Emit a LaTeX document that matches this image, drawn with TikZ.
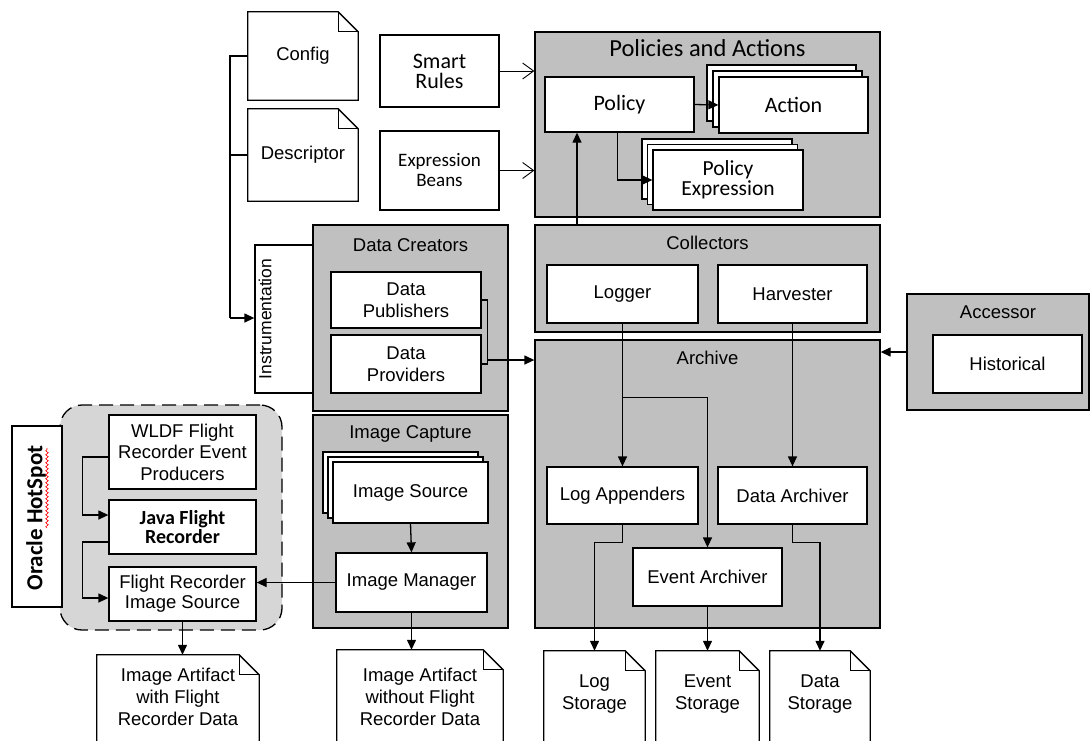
\documentclass[tikz,border=0pt]{standalone}
\usepackage{fontspec}
\setmainfont{Liberation Sans}
\newfontfamily\calib{Carlito}
\usetikzlibrary{arrows.meta,calc,backgrounds,decorations.pathmorphing}
\definecolor{grp}{RGB}{192,192,192}
\definecolor{hot}{RGB}{214,214,214}
\tikzset{
  every node/.style={font=\fontsize{18.5}{22}\selectfont},
  box/.style={draw, line width=1.3pt, fill=white, inner sep=0pt, align=center},
  grpbox/.style={draw, line width=1.3pt, fill=grp, inner sep=0pt},
  hotbox/.style={draw, line width=1.3pt, fill=hot, inner sep=0pt, dash pattern=on 14pt off 7pt, rounded corners=22pt},
  ttl/.style={inner sep=0pt},
  doc/.style={inner sep=0pt, align=center},
  ln/.style={line width=1.3pt},
  arr/.style={line width=1.3pt, -{Triangle[length=10pt,width=9pt]}},
  oarr/.style={line width=0.9pt, -{Straight Barb[length=11pt,width=16pt]}},
}
\newcommand\rn[6][]{\node[#1, minimum width={(#4)-(#2)}, minimum height={(#5)-(#3)}] (#6) at ({((#2)+(#4))/2},{((#3)+(#5))/2})}
\newcommand\stackback[5]{\foreach \k in {2,1}{\draw[ln, fill=white] ({#1-\k*#5},{#2-\k*#5}) rectangle ({#3-\k*#5},{#4-\k*#5});}}
\newcommand\docshape[2]{%
  \begin{pgfonlayer}{background}
  \draw[ln, fill=white] ([yshift=-#2pt]#1.south west) -- (#1.north west) -- ([xshift=-20pt]#1.north east) -- ([yshift=-20pt]#1.north east) -- ([yshift=-#2pt]#1.south east) -- cycle;
  \draw[ln] ([xshift=-20pt]#1.north east) |- ([yshift=-20pt]#1.north east);
  \end{pgfonlayer}}
\begin{document}
\begin{tikzpicture}[x=1pt,y=-1pt]
\useasboundingbox (0,0) rectangle (1092,740);
\clip (0,0) rectangle (1092,740);

% group containers
\rn[grpbox]{535}{32}{880}{217}{pa} {};
\path (pa.north) ++(0,17) node[ttl, font=\calib\fontsize{24.5}{24}\selectfont] (pat) {Policies and Actions};
\rn[grpbox]{535}{225}{880}{332}{coll} {};
\path (coll.north) ++(0,19) node[ttl] (collt) {Collectors};
\rn[grpbox]{535}{340}{880}{628}{arch} {};
\path (arch.north) ++(0,19) node[ttl] (archt) {Archive};
\rn[grpbox]{907}{294}{1089}{410}{acc} {};
\path (acc.north) ++(0,19) node[ttl] (acct) {Accessor};
\rn[box]{255}{245}{314}{393}{instr} {};
\node[rotate=90, inner sep=0pt, font=\fontsize{17.5}{20}\selectfont] (instrt) at (265,319) {Instrumentation};
\rn[grpbox]{313}{225}{508}{411}{dc} {};
\path (dc.north) ++(0,21) node[ttl] (dct) {Data Creators};
\rn[grpbox]{313}{415}{508}{628}{ic} {};
\path (ic.north) ++(0,20) node[ttl] (ict) {Image Capture};
\rn[hotbox]{60}{405}{282}{630}{hs} {};

% documents
\rn[doc]{248}{12}{358}{100}{cfg} {Config};
\docshape{cfg}{0}
\rn[doc]{248}{109}{358}{201}{desc} {Descriptor};
\docshape{desc}{0}
\rn[doc]{97}{655}{259}{739}{iaw} {Image Artifact\\with Flight\\Recorder Data};
\docshape{iaw}{12}
\rn[doc]{337}{650}{503}{744}{iwo} {Image Artifact\\without Flight\\Recorder Data};
\docshape{iwo}{12}
\rn[doc]{544}{651}{645}{737}{logs} {Log\\Storage};
\docshape{logs}{12}
\rn[doc]{656}{651}{759}{737}{evs} {Event\\Storage};
\docshape{evs}{12}
\rn[doc]{770}{651}{870}{737}{dats} {Data\\Storage};
\docshape{dats}{12}

% boxes
\rn[box, font=\calib\fontsize{22}{20}\selectfont]{380}{35}{499}{107}{sr} {Smart\\Rules};
\rn[box, font=\calib\fontsize{19}{20}\selectfont]{380}{131}{499}{210}{eb} {Expression\\Beans};
\rn[box, font=\calib\fontsize{22}{22}\selectfont]{545}{77}{694}{132}{pol} {Policy};
\stackback{719}{77}{868}{133}{6}
\rn[box, font=\calib\fontsize{22}{22}\selectfont]{719}{77}{868}{133}{act} {Action};
\stackback{653}{150}{803}{210}{5.5}
\rn[box, font=\calib\fontsize{21.5}{20}\selectfont]{653}{150}{803}{210}{pe} {Policy\\Expression};
\rn[box]{547}{265}{698}{323}{logger} {Logger};
\rn[box]{718}{265}{867}{323}{harv} {Harvester};
\rn[box]{547}{467}{698}{524}{la} {Log Appenders};
\rn[box]{718}{467}{867}{524}{da} {Data Archiver};
\rn[box]{633}{548}{782}{606}{ea} {Event Archiver};
\rn[box]{933}{335}{1082}{393}{hist} {Historical};
\rn[box]{331}{272}{481}{328}{dpub} {Data\\Publishers};
\rn[box]{331}{335}{481}{393}{dprov} {Data\\Providers};
\stackback{333}{462}{488}{523}{5}
\rn[box]{333}{462}{488}{523}{isrc} {Image Source};
\rn[box]{336}{553}{487}{612}{imgr} {Image Manager};
\rn[box, font=\fontsize{18.5}{21.5}\selectfont]{109}{415}{256}{489}{wldf} {WLDF Flight\\Recorder Event\\Producers};
\rn[box, font=\calib\bfseries\fontsize{20}{19.5}\selectfont]{109}{500}{256}{554}{jfr} {Java Flight\\Recorder};
\rn[box, font=\fontsize{18.5}{20}\selectfont]{109}{567}{256}{621}{frs} {Flight Recorder\\Image Source};
\rn[box]{12}{426}{62}{607}{ora} {};
\node[rotate=90, inner sep=0pt, font=\calib\bfseries\fontsize{23}{23}\selectfont] (orat) at (36,518) {Oracle HotSpot};
\draw[red, line width=0.6pt, decorate, decoration={snake, amplitude=1.3pt, segment length=4pt}] (47,528) -- (47,448);

% connectors
\coordinate (lv) at (230,318);
\draw[ln] (cfg.west) -| (lv);
\draw[ln] (desc.west) -- (desc.west -| lv);
\draw[arr] (lv) -- (lv -| instr.west);
\draw[oarr] (sr.east) -- (sr.east -| pa.west);
\draw[oarr] (eb.east) -- (eb.east -| pa.west);
\draw[arr] (pol.east) -- (act.west);
\draw[arr] ([xshift=-2pt]pol.south) |- (pe.west);
\coordinate (cp) at (577,225);
\draw[arr] (cp) -- (cp |- pol.south);
\draw[arr] (logger.south) -- (la.north);
\coordinate (br) at ($(logger.south)+(0,74)$);
\draw[arr] (br) -| (ea.north);
\draw[arr] (harv.south) -- (da.north);
\draw[arr] (la.south) -- ++(0,18) -| (logs.north);
\draw[arr] (ea.south) -- (evs.north);
\draw[arr] (da.south) -- ++(0,18) -| (dats.north);
\draw[arr] (acc.west) -- (acc.west -| arch.east);
\draw[ln] (dpub.east) -- ++(6,0) |- (dprov.east);
\coordinate (bk) at ($(dprov.east)+(6,-4)$);
\draw[arr] (bk) -- (bk -| arch.west);
\draw[arr] (isrc.south) -- (imgr.north);
\draw[arr] (imgr.south) -- (imgr.south |- iwo.north);
\draw[arr] (imgr.west) -- (imgr.west -| frs.east);
\draw[arr] ([yshift=-5pt]wldf.west) -- ++(-26,0) |- ([yshift=12pt]jfr.west);
\draw[arr] ([yshift=-15pt]jfr.west) -- ++(-26,0) |- ([yshift=-4pt]frs.west);
\draw[arr] (frs.south) -- (frs.south |- iaw.north);
\end{tikzpicture}
\end{document}
